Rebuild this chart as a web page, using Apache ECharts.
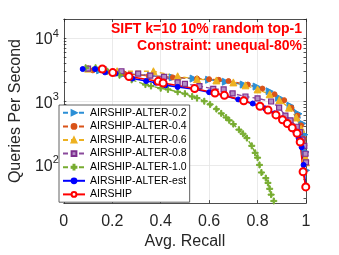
<!DOCTYPE html>
<html><head><meta charset="utf-8">
<script src="https://cdn.jsdelivr.net/npm/echarts@6/dist/echarts.min.js"></script>
<style>html,body{margin:0;padding:0;background:#fff}#c{width:339px;height:255px}</style>
</head><body><div id="c"></div>
<script>
const seriesNames = ['AIRSHIP-ALTER-0.2','AIRSHIP-ALTER-0.4','AIRSHIP-ALTER-0.6','AIRSHIP-ALTER-0.8','AIRSHIP-ALTER-1.0','AIRSHIP-ALTER-est','AIRSHIP'];
const recall02 = [0.15,0.25,0.36,0.45,0.536,0.60,0.669,0.743,0.796,0.85,0.889,0.936,0.969,0.985,0.993,0.998,1.0];
const qps02    = [3100,2750,2550,2400,2300,2200,2050,1850,1720,1450,1150,860,640,450,300,160,82];
const recall04 = [0.12,0.25,0.35,0.45,0.55,0.60,0.64,0.68,0.76,0.82,0.87,0.91,0.94,0.965,0.98,0.99,0.997,0.999];
const qps04    = [3100,2750,2550,2400,2300,2250,2200,2100,1850,1600,1300,1050,800,600,420,260,140,110];
const recall06 = [0.10,0.22,0.37,0.47,0.55,0.63,0.70,0.75,0.80,0.85,0.89,0.93,0.96,0.98,0.99,0.998,1.0];
const qps06    = [3300,3000,3000,2500,2250,2150,2000,1800,1550,1300,1050,800,560,370,230,130,110];
const recall08 = [0.10,0.164,0.238,0.307,0.357,0.414,0.47,0.50,0.56,0.617,0.66,0.697,0.75,0.80,0.856,0.889,0.915,0.936,0.962,0.975,0.985,0.993,0.998,1.0];
const qps08    = [3300,3200,3000,2750,2550,2450,2000,1900,1750,1580,1550,1340,1200,1120,1000,800,600,505,400,330,250,200,150,110];
const recall10 = [0.09,0.131,0.18,0.23,0.28,0.337,0.36,0.40,0.43,0.47,0.50,0.53,0.55,0.58,0.604,0.63,0.65,0.67,0.683,0.70,0.723,0.74,0.756,0.776,0.79,0.80,0.808,0.816,0.834,0.843,0.85,0.856,0.867];
const qps10    = [3400,3400,3000,2600,2200,1850,1750,1620,1550,1420,1330,1200,1130,1010,900,760,650,560,505,440,360,310,265,200,155,130,100,76,62,52,42,34,27];
const recallEst = [0.078,0.129,0.170,0.214,0.283,0.340,0.380,0.420,0.470,0.540,0.600,0.660,0.720,0.780,0.830,0.870,0.900,0.930,0.955,0.970,0.982,0.990,0.999];
const qpsEst    = [3250,3250,2880,2760,2300,2100,1980,1800,1700,1560,1400,1250,1080,930,780,650,540,440,340,260,190,100,45];
const recallAir = [0.159,0.202,0.269,0.390,0.410,0.540,0.624,0.663,0.743,0.810,0.843,0.876,0.903,0.923,0.943,0.963,0.976,0.988,0.999];
const qpsAir    = [3250,2860,2480,2080,1960,1600,1360,1250,1025,840,735,615,515,450,385,315,230,78,45];
const xTicks = [0,0.2,0.4,0.6,0.8,1];
const yMajor = [100,1000,10000];
const titleLines = ['SIFT k=10 10% random top-1', 'Constraint: unequal-80%'];

const FONT = '"Liberation Sans", Arial, Helvetica, sans-serif';
const yMinor = [];
for (let d = 10; d <= 10000; d *= 10) for (let k = 1; k <= 9; k++) { const v = d*k; if (v >= 25 && v <= 20000) yMinor.push(v); }
const pair = (r, q) => r.map((v, i) => [v, q[i]]);
const plus = 'path://M4,0H6V4H10V6H6V10H4V6H0V4H4Z';

const colors = ['#2b8fd6', '#D95319', '#EDB120', '#7E2F8E', '#77AC30', '#0000FF', '#FF0000'];

function mk(name, r, q, color, symbol, size, dashed, extra) {
  return Object.assign({
    name, type: 'line', data: pair(r, q), symbol, symbolSize: size,
    lineStyle: { color, width: 1.4, type: dashed ? [5, 3] : 'solid' },
    itemStyle: { color, borderColor: color, borderWidth: 1 },
    emphasis: { disabled: true }, animation: false, z: 2
  }, extra || {});
}

const series = [
  mk(seriesNames[0], recall02, qps02, colors[0], 'triangle', 7, true, { symbolRotate: -90 }),
  mk(seriesNames[1], recall04, qps04, colors[1], 'circle', 5, true),
  mk(seriesNames[2], recall06, qps06, colors[2], 'triangle', 7, true),
  mk(seriesNames[3], recall08, qps08, '#8a4a9c', 'rect', 5, true, { itemStyle: { color: '#b58fc6', borderColor: colors[3], borderWidth: 1.2 } }),
  mk(seriesNames[4], recall10, qps10, colors[4], plus, 6, true),
  mk(seriesNames[5], recallEst, qpsEst, colors[5], 'circle', 5, false, { lineStyle: { color: colors[5], width: 1.6 } }),
  mk(seriesNames[6], recallAir, qpsAir, colors[6], 'emptyCircle', 7, false, { lineStyle: { color: colors[6], width: 1.6 }, itemStyle: { color: colors[6], borderWidth: 1.3 } })
];

const axisCol = '#262626';
const chart = echarts.init(document.getElementById('c'), null, { renderer: 'canvas' });
chart.setOption({
  animation: false,
  backgroundColor: '#fff',
  graphic: titleLines.map((t, i) => ({
    type: 'text', right: 37, top: 22 + i * 17, z: 10,
    style: { text: t, align: 'right', fill: '#FF0000', font: 'bold 14px ' + FONT }
  })),
  grid: { left: 55.5, right: 33, top: 19, bottom: 49 },
  legend: {
    orient: 'vertical', left: 59, top: 105, data: seriesNames,
    itemWidth: 22, itemHeight: 6, itemGap: 0,
    padding: [1, 3, 1, 3],
    backgroundColor: '#fff', borderColor: '#3a3a3a', borderWidth: 0.8,
    textStyle: { fontFamily: FONT, fontSize: 10.5, color: '#000', lineHeight: 13.6 },
    selectedMode: false
  },
  xAxis: [
    { type: 'value', min: 0, max: 1, interval: 0.2, position: 'bottom',
      name: 'Avg. Recall', nameLocation: 'middle', nameGap: 29,
      nameTextStyle: { fontFamily: FONT, fontSize: 16, color: axisCol },
      axisLine: { show: true, lineStyle: { color: axisCol, width: 0.8 } },
      axisTick: { show: true, inside: true, length: 3, lineStyle: { color: axisCol, width: 0.8 } },
      axisLabel: { fontFamily: FONT, fontSize: 16, color: axisCol, margin: 10 },
      splitLine: { show: true, lineStyle: { color: '#e5e5e5', width: 0.8 } } },
    { type: 'value', min: 0, max: 1, interval: 0.2, position: 'top',
      axisLine: { show: true, lineStyle: { color: axisCol, width: 0.8 } },
      axisTick: { show: true, inside: true, length: 3, lineStyle: { color: axisCol, width: 0.8 } },
      axisLabel: { show: false }, splitLine: { show: false } }
  ],
  yAxis: [
    { type: 'log', logBase: 10, min: 25, max: 20000, position: 'left',
      name: 'Queries Per Second', nameLocation: 'middle', nameGap: 34, nameRotate: 90,
      nameTextStyle: { fontFamily: FONT, fontSize: 16, color: axisCol },
      axisLine: { show: true, lineStyle: { color: axisCol, width: 0.8 } },
      axisTick: { show: true, inside: true, length: 2.5, customValues: yMinor, lineStyle: { color: axisCol, width: 0.8 } },
      axisLabel: { customValues: yMajor, margin: 5,
        formatter: v => '{b|10}{s|' + Math.round(Math.log10(v)) + '}',
        rich: { b: { fontFamily: FONT, fontSize: 16, color: axisCol, padding: [4, 0, 0, 0] },
                s: { fontFamily: FONT, fontSize: 11, color: axisCol, padding: [0, 0, 9, 0] } } },
      splitLine: { show: false } },
    { type: 'log', logBase: 10, min: 25, max: 20000, position: 'right',
      axisLine: { show: true, onZero: false, lineStyle: { color: axisCol, width: 0.8 } },
      axisTick: { show: true, inside: true, length: 2.5, customValues: yMinor, lineStyle: { color: axisCol, width: 0.8 } },
      axisLabel: { show: false }, splitLine: { show: false } },
    { type: 'log', logBase: 10, min: 25, max: 20000, position: 'left',
      axisLine: { show: false }, axisTick: { show: false }, axisLabel: { show: false },
      splitLine: { show: true, lineStyle: { color: '#e5e5e5', width: 0.8 } } }
  ],
  series
});
</script></body></html>
